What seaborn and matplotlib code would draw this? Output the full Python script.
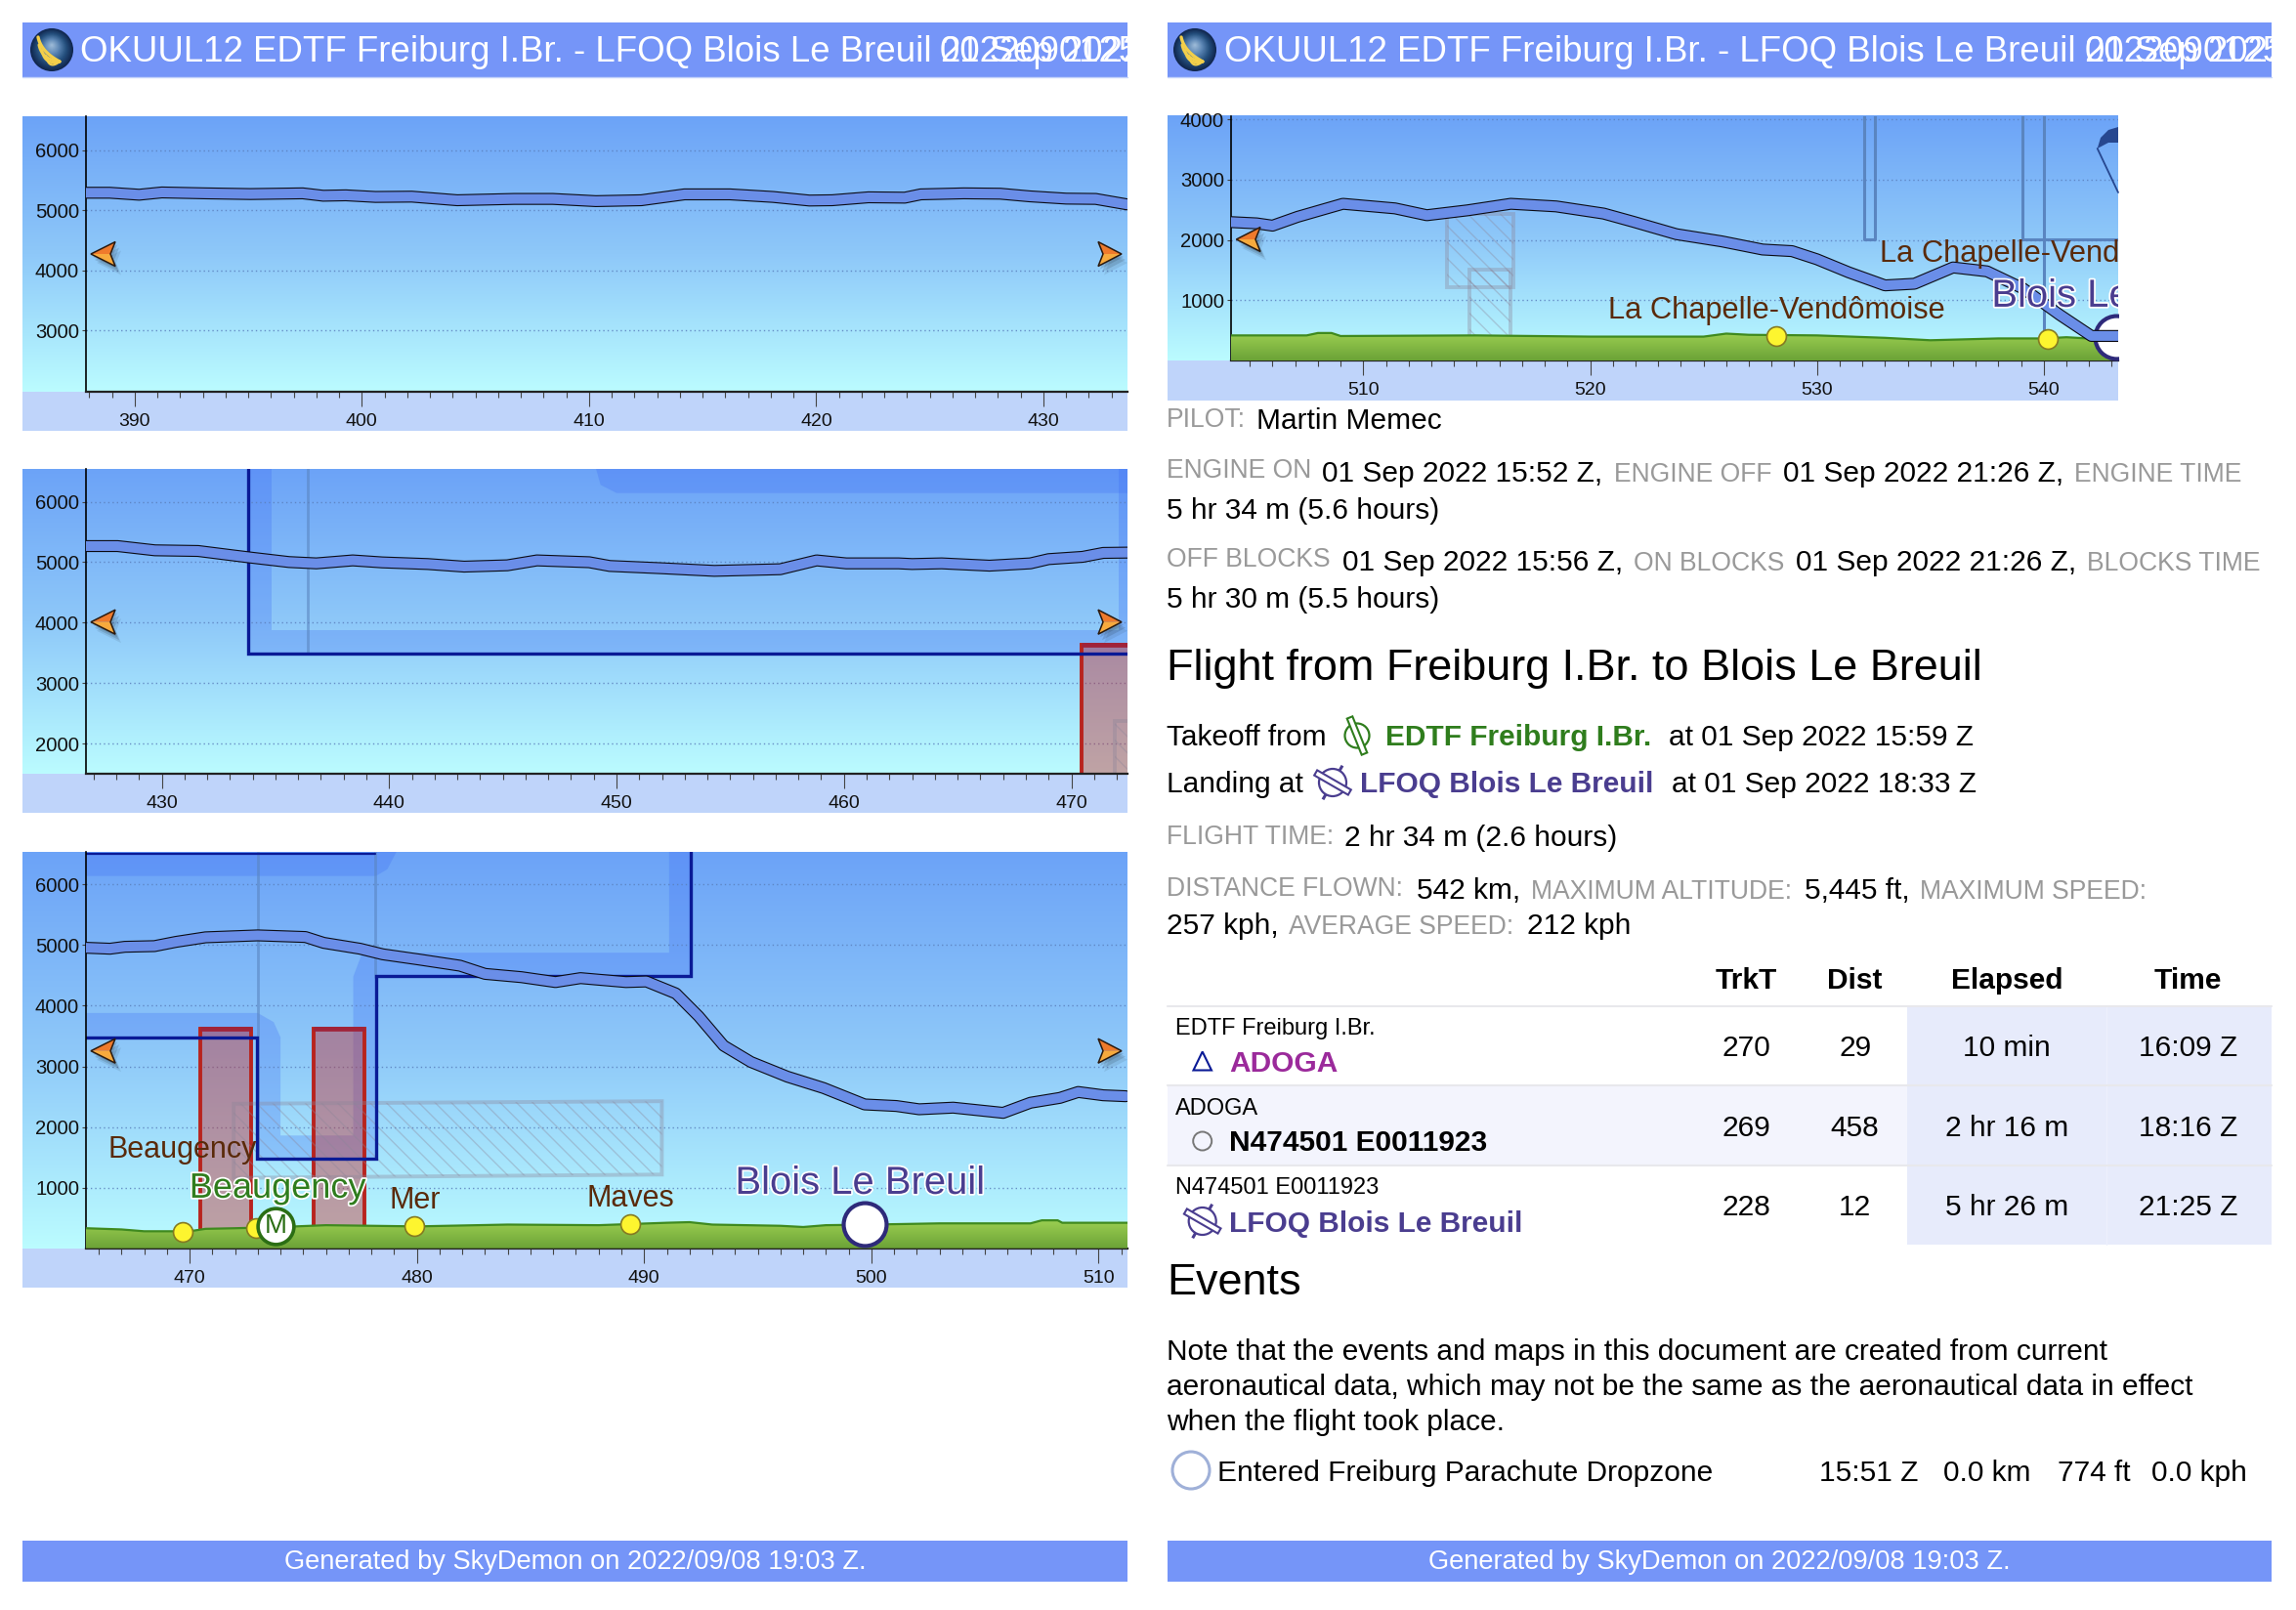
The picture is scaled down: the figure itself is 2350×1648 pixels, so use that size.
"""
Flight log page: altitude profile panels on the left, flight details on the right.
"""

import matplotlib.patheffects as pe
import matplotlib.pyplot as plt
import numpy as np
import seaborn as sns
from matplotlib.colors import LinearSegmentedColormap
from matplotlib.patches import Circle, Polygon, Rectangle
from matplotlib.ticker import FixedLocator, MultipleLocator

W, H = 2350, 1648

# altitude track, one pair of lists per panel
dist_1 = [387.86, 388.9, 390.2, 391.2, 393.1, 395.1, 397.4, 398.3, 399.3, 400.6, 402.2, 404.2, 406.7, 408.4,
          410.3, 412.3, 414.2, 416.2, 418.1, 419.7, 420.7, 422.3, 423.9, 424.6, 426.5, 428.1, 429.4, 431, 432.3, 433.7]
alt_1 = [5290, 5290, 5257, 5295, 5280, 5268, 5280, 5240, 5247, 5220, 5225, 5165, 5187, 5187,
         5150, 5165, 5263, 5263, 5220, 5160, 5165, 5214, 5208, 5263, 5280, 5274, 5230, 5192, 5187, 5095]

dist_2 = [426.67, 428.06, 429.7, 431.6, 433.2, 434, 435.6, 436.8, 438.4, 439.7, 441.7, 443.3, 445.2, 446.5, 448.8,
          449.7, 452, 454.3, 457.2, 458.8, 460.1, 462.4, 463, 464.3, 466.4, 468.2, 469, 470.5, 471.4, 472.46]
alt_2 = [5267, 5267, 5197, 5186, 5110, 5073, 5003, 4981, 5030, 4997, 4970, 4927, 4949, 5030, 5000,
         4938, 4900, 4857, 4884, 5030, 4981, 4981, 4970, 4981, 4943, 4981, 5051, 5089, 5154, 5159]

dist_3 = [465.44, 466.5, 467.15, 468.45, 469.4, 470.7, 473, 475.1, 475.9, 477.5, 478.5, 480.1, 481.9, 483, 484.6,
          486.1, 487.2, 489.2, 490.1, 491.4, 492.4, 493.5, 494.7, 496.3, 497.9, 499.7, 501.1, 502.1, 503.6,
          505.8, 507, 508.3, 509.1, 510.2, 511.2]
alt_3 = [4956, 4940, 4972, 4983, 5053, 5128, 5160, 5133, 5037, 4940, 4848, 4762, 4660, 4525, 4471,
         4390, 4455, 4390, 4400, 4202, 3826, 3341, 3072, 2830, 2642, 2372, 2346, 2292, 2319,
         2233, 2400, 2480, 2577, 2523, 2507]

dist_4 = [504.17, 505.3, 506, 507.1, 508.2, 509.1, 511.4, 512.8, 514.6, 516.5, 518.5, 520.6, 521.9, 523.8, 525.8,
          527.6, 528.9, 530, 531.4, 533, 534.3, 536, 537.5, 539.1, 540.7, 542.1, 543.3]
alt_4 = [2297, 2276, 2238, 2384, 2503, 2600, 2524, 2411, 2492, 2600, 2557, 2438, 2303, 2097, 1978,
         1843, 1816, 1681, 1465, 1249, 1276, 1546, 1481, 1195, 762, 411, 411]

# terrain under the last two panels
terrain_x_3 = [465.44, 467, 468, 470, 470.7, 472, 474, 476, 480, 484, 488, 491, 492, 493, 496, 497, 498, 500, 503,
               507, 507.5, 508.2, 508.4, 511.27]
terrain_y_3 = [330, 310, 280, 280, 320, 330, 350, 380, 360, 390, 380, 420, 430, 390, 370, 350, 380, 390, 410,
               410, 460, 460, 420, 420]
terrain_x_4 = [504.17, 507.5, 508, 508.6, 509, 515, 520, 525, 526, 527, 530, 533, 535, 538, 540, 541, 543.3]
terrain_y_4 = [420, 420, 460, 460, 410, 420, 400, 400, 450, 430, 420, 380, 340, 370, 370, 390, 340]

# waypoints
wpt_x_3 = [469.68, 472.9, 479.9, 489.4]
wpt_y_3 = [263, 340, 365, 395]
wpt_x_4 = [528.2, 540.2]
wpt_y_4 = [411, 367]
field_x, field_y = [499.7], [390]
blois_x_4, blois_y_4 = [543.2], [390]
vrp_x, vrp_y = [473.8], [370]

# table
table_heads = ["TrkT", "Dist", "Elapsed", "Time"]
row_from = ["EDTF Freiburg I.Br.", "ADOGA", "N474501 E0011923"]
row_to = ["ADOGA", "N474501 E0011923", "LFOQ Blois Le Breuil"]
row_trk = ["270", "269", "228"]
row_dist = ["29", "458", "12"]
row_elapsed = ["10 min", "2 hr 16 m", "5 hr 26 m"]
row_time = ["16:09 Z", "18:16 Z", "21:25 Z"]

BANNER = "#7595f8"
BAND = "#bfd4fa"
GREY = "#999999"
BROWN = "#5a2a0a"
GREEN = "#2f7d1d"
PURPLE = "#4a3d8f"
AIR = (0.24, 0.42, 0.96, 0.27)
RED_FILL = (0.78, 0.16, 0.16, 0.42)
RED_EDGE = "#b8241e"
NAVY = "#0a1a96"
THIN = "#5a85c0"
HATCH = (0.55, 0.52, 0.6, 0.36)

sns.set_theme(style="ticks")
plt.rcParams["font.family"] = ["Liberation Sans", "DejaVu Sans"]
plt.rcParams["hatch.linewidth"] = 1.0

fig = plt.figure(figsize=(W / 100, H / 100), dpi=100, facecolor="white")


def page_axes(zorder):
    ax = fig.add_axes([0, 0, 1, 1], zorder=zorder)
    ax.set_xlim(0, W)
    ax.set_ylim(H, 0)
    ax.axis("off")
    ax.patch.set_alpha(0)
    return ax


back = page_axes(0)
front = page_axes(5)

sky_cmap = LinearSegmentedColormap.from_list("sky", ["#6ca3f7", "#8ec8f9", "#bbfcff"])
grass_cmap = LinearSegmentedColormap.from_list("grass", ["#9ccf52", "#6ba236"])
ramp = np.linspace(0, 1, 256).reshape(-1, 1)


def add_panel(left, right, top, axis_y, band_y, xlim, ylim, yticks):
    back.imshow(ramp, cmap=sky_cmap, extent=(left, right, axis_y, top), aspect="auto", zorder=1)
    back.add_patch(Rectangle((left, axis_y), right - left, band_y - axis_y, fc=BAND, ec="none", zorder=1))
    back.set_xlim(0, W)
    back.set_ylim(H, 0)
    ax_left = left + 65
    ax = fig.add_axes(
        [ax_left / W, 1 - axis_y / H, (right - ax_left) / W, (axis_y - top) / H], zorder=1
    )
    ax.patch.set_alpha(0)
    ax.set_xlim(*xlim)
    ax.set_ylim(*ylim)
    ax.xaxis.set_major_locator(MultipleLocator(10))
    ax.xaxis.set_minor_locator(MultipleLocator(1))
    ax.yaxis.set_major_locator(FixedLocator(yticks))
    ax.tick_params(axis="x", which="major", length=10.8, width=0.8, labelsize=14, pad=5, color="#444444",
                   labelcolor="#111111")
    ax.tick_params(axis="x", which="minor", length=4.3, width=0.8, color="#444444")
    ax.tick_params(axis="y", length=3, width=0.8, labelsize=14.6, pad=2, color="#444444", labelcolor="#111111")
    ax.grid(axis="y", ls=(0, (1, 2.2)), lw=1, color="#5b80bd", alpha=0.85)
    ax.set_axisbelow("line")
    sns.despine(ax=ax)
    ax.spines["left"].set_linewidth(1.2)
    ax.spines["left"].set_color("black")
    ax.spines["bottom"].set_linewidth(1.6)
    ax.spines["bottom"].set_color("#222222")
    return ax


def draw_track(ax, x, y):
    sns.lineplot(x=x, y=y, sort=False, estimator=None, color="#0b0b14", lw=8.8, ax=ax, zorder=6,
                 solid_joinstyle="round")
    sns.lineplot(x=x, y=y, sort=False, estimator=None, color="#6a8ee8", lw=7.2, ax=ax, zorder=6.1,
                 solid_joinstyle="round")
    ax.set_xlabel("")
    ax.set_ylabel("")


def draw_terrain(ax, x, y):
    fill = ax.fill_between(x, y, 0, color="none", zorder=3)
    grass = ax.imshow(ramp, cmap=grass_cmap, extent=(x[0], x[-1], 0, max(y)), aspect="auto", zorder=3)
    grass.set_clip_path(fill.get_paths()[0], transform=ax.transData)
    sns.lineplot(x=x, y=y, sort=False, estimator=None, color="#3f8a1f", lw=1.6, ax=ax, zorder=3.1)
    ax.set_xlabel("")
    ax.set_ylabel("")


def draw_waypoints(ax, x, y):
    sns.scatterplot(x=x, y=y, s=205, color="#fdf52f", edgecolor="#857a22", linewidth=1.2, ax=ax, zorder=5,
                    legend=False, clip_on=True)
    ax.set_xlabel("")
    ax.set_ylabel("")


def label(ax, x, y, text, color, size, halo=0.0, ha="center"):
    t = ax.text(x, y, text, color=color, fontsize=size, ha=ha, va="baseline", zorder=8, clip_on=True)
    if halo:
        t.set_path_effects([pe.withStroke(linewidth=halo, foreground="white")])


def red_box(ax, x0, x1, top):
    ax.add_patch(Rectangle((x0, -100), x1 - x0, top + 100, fc=RED_FILL, ec=RED_EDGE, lw=2.8, zorder=2))
    ax.plot([x0, x1], [top, top], color="#a0233a", lw=3.4, zorder=2.1, solid_capstyle="butt")


def hatched(ax, points):
    ax.add_patch(Polygon(points, closed=True, fc="none", ec=HATCH, hatch="\\\\", lw=2.8, zorder=2.2))


def arrow(tip_x, back_x, notch_x, y):
    top, bottom = y - 12.5, y + 12.5
    for dx, dy, a in ((6, 9, 0.08), (4, 6, 0.12), (2, 3, 0.12)):
        front.add_patch(Polygon([(tip_x + dx, y + dy), (back_x + dx, top + dy), (notch_x + dx, y + dy),
                                 (back_x + dx, bottom + dy)], fc="black", alpha=a, ec="none"))
    front.add_patch(Polygon([(tip_x, y), (back_x, top), (notch_x, y)], fc="#ef7a2c", ec="none"))
    front.add_patch(Polygon([(tip_x, y), (back_x, bottom), (notch_x, y)], fc="#f7aa3d", ec="none"))
    front.add_patch(Polygon([(tip_x, y), (back_x, top), (notch_x, y), (back_x, bottom)],
                            fc="none", ec="#2a1a10", lw=1.1))


def globe(cx, cy):
    shades = LinearSegmentedColormap.from_list("globe", ["#10264d", "#25507f", "#5c86b4", "#9ab8d6"])
    for i, frac in enumerate(np.linspace(1, 0.05, 24)):
        back.add_patch(Circle((cx, cy - 5 * (1 - frac)), 22 * frac, fc=shades(i / 23), ec="none", zorder=3))
    t = np.linspace(0, 1, 20)
    for sx, sy, width in ((-14, -13, 2.4), (-13, -5, 2.2), (-10, 1, 2.0), (-6, 6, 1.6)):
        curve_x = cx + (1 - t) ** 2 * sx + 2 * t * (1 - t) * (sx + 3) + t ** 2 * 8
        curve_y = cy + (1 - t) ** 2 * sy + 2 * t * (1 - t) * (sy + 15) + t ** 2 * 12
        back.plot(curve_x, curve_y, color="#f3cf4a", lw=width, zorder=4, solid_capstyle="round")


def banner(left, right, title_x, date_x, globe_x):
    back.add_patch(Rectangle((left, 23), right - left, 56, fc=BANNER, ec="none", zorder=2))
    back.plot([left, right], [79, 79], color="#c6d4fb", lw=1, zorder=2)
    globe(globe_x, 51)
    clip = Rectangle((left, 23), right - left, 56, transform=back.transData)
    back.text(title_x, 63, "OKUUL12 EDTF Freiburg I.Br. - LFOQ Blois Le Breuil", color="white",
              fontsize=26.4, va="baseline", zorder=4)
    for date in ("01 Sep 2022", "2022090125"):
        t = back.text(date_x, 63, date, color="white", fontsize=26.4, va="baseline", zorder=4)
        t.set_clip_path(clip)


def footer(left, right):
    back.add_patch(Rectangle((left, 1577), right - left, 42, fc=BANNER, ec="none", zorder=2))
    back.text((left + right) / 2, 1606, "Generated by SkyDemon on 2022/09/08 19:03 Z.", color="white",
              fontsize=19.6, ha="center", va="baseline", zorder=4)


def airfield(cx, cy, color, angle, stubs, radius=12.5):
    front.add_patch(Circle((cx, cy), radius, fc="none", ec=color, lw=1.6))
    rad = np.radians(angle)
    ux, uy = np.cos(rad), np.sin(rad)
    if stubs:
        for sign in (1, -1):
            front.plot([cx + sign * radius * uy, cx + sign * (radius + 6) * uy],
                       [cy - sign * radius * ux, cy - sign * (radius + 6) * ux],
                       color=color, lw=2.2, solid_capstyle="butt")
    half, wid = 20, 3
    corners = [(cx + s1 * half * ux - s2 * wid * uy, cy + s1 * half * uy + s2 * wid * ux)
               for s1, s2 in ((1, 1), (1, -1), (-1, -1), (-1, 1))]
    front.add_patch(Polygon(corners, fc="white", ec=color, lw=1.5, zorder=3))


def txt(x, y, text, color="black", size=21.5, weight="normal", ha="left"):
    front.text(x, y, text, color=color, fontsize=size, fontweight=weight, ha=ha, va="baseline")


def grey(x, y, text):
    txt(x, y, text, color=GREY, size=19.1)


# ---- left column ----
banner(23, 1154, 82, 962.5, 53)
banner(1195, 2325, 1253, 2133.5, 1223)
footer(23, 1154)
footer(1195, 2325)

ax1 = add_panel(23, 1154, 119, 400.7, 441, (387.86, 433.7), (1980, 6564), [3000, 4000, 5000, 6000])
draw_track(ax1, dist_1, alt_1)

ax2 = add_panel(23, 1154, 480, 792, 832, (426.67, 472.47), (1499, 6544), [2000, 3000, 4000, 5000, 6000])
ax2.add_patch(Polygon([(433.8, 6544), (433.8, 3490), (472.47, 3490), (472.47, 6544), (472.07, 6544),
                       (472.07, 3876), (434.85, 3876), (434.85, 6544)], fc=AIR, ec="none", zorder=1))
ax2.add_patch(Polygon([(449.1, 6544), (449.3, 6280), (450, 6145), (472.47, 6145), (472.47, 6544)],
                      fc=AIR, ec="none", zorder=1))
ax2.plot([436.44, 436.44], [3490, 6544], color=THIN, lw=2, alpha=0.6, zorder=1.2)
ax2.plot([433.8, 433.8, 472.47], [6544, 3490, 3490], color=NAVY, lw=2.4, zorder=2.4, solid_joinstyle="miter")
red_box(ax2, 470.45, 473.5, 3633)
hatched(ax2, [(471.9, 1000), (471.9, 2367), (474, 2367), (474, 1000)])
draw_track(ax2, dist_2, alt_2)

ax3 = add_panel(23, 1154, 872, 1277.7, 1317.7, (465.44, 511.27), (0, 6537), [1000, 2000, 3000, 4000, 5000, 6000])
red_box(ax3, 470.45, 472.7, 3626)
red_box(ax3, 475.44, 477.7, 3626)
ax3.add_patch(Polygon([(465.44, 3480), (472.98, 3480), (472.98, 1480), (478.2, 1480), (478.2, 4480), (492.07, 4480),
                       (492.07, 6537), (491.1, 6537), (491.1, 4875), (477.6, 4875), (477.2, 4480), (477.2, 1860),
                       (474, 1860), (474, 3480), (473.7, 3730), (473, 3880), (465.44, 3880)],
                      fc=AIR, ec="none", zorder=1))
ax3.add_patch(Polygon([(465.44, 6537), (479.1, 6537), (478.7, 6250), (478.2, 6140), (465.44, 6140)],
                      fc=AIR, ec="none", zorder=1))
ax3.plot([473, 473], [1480, 6537], color=THIN, lw=2, alpha=0.6, zorder=1.2)
ax3.plot([478.15, 478.15], [4480, 6537], color=THIN, lw=2, alpha=0.6, zorder=1.2)
hatched(ax3, [(471.94, 2383), (490.78, 2425), (490.78, 1215), (471.94, 1161)])
ax3.plot([465.44, 478.15], [6510, 6510], color=NAVY, lw=1.6, zorder=2.4)
ax3.plot([465.44, 472.98, 472.98, 478.2, 478.2, 492.07, 492.07], [3480, 3480, 1480, 1480, 4490, 4490, 6537],
         color=NAVY, lw=2.4, zorder=2.4, solid_joinstyle="miter")
draw_terrain(ax3, terrain_x_3, terrain_y_3)
draw_waypoints(ax3, wpt_x_3, wpt_y_3)
sns.scatterplot(x=vrp_x, y=vrp_y, s=700, color="white", edgecolor="#2b6e14", linewidth=2.6, ax=ax3, zorder=5.5,
                legend=False)
ax3.text(vrp_x[0], vrp_y[0], "M", color="#2b6e14", fontsize=20, ha="center", va="center", zorder=5.6)
sns.scatterplot(x=field_x, y=field_y, s=1000, color="white", edgecolor="#2e2a7a", linewidth=3, ax=ax3, zorder=5.5,
                legend=False)
ax3.set_xlabel("")
ax3.set_ylabel("")
draw_track(ax3, dist_3, alt_3)
label(ax3, 469.68, 1496, "Beaugency", BROWN, 22)
label(ax3, 473.87, 834, "Beaugency", GREEN, 26, halo=2.5)
label(ax3, 479.9, 661, "Mer", BROWN, 22)
label(ax3, 489.4, 689, "Maves", BROWN, 22)
label(ax3, 499.5, 898, "Blois Le Breuil", PURPLE, 28.8, halo=2.5)

ax4 = add_panel(1195, 2168, 119, 369.3, 410, (504.17, 543.28), (0, 4050), [1000, 2000, 3000, 4000])
hatched(ax4, [(513.7, 2427), (516.6, 2427), (516.6, 1211), (513.7, 1211)])
hatched(ax4, [(514.7, 1514), (516.5, 1514), (516.5, 300), (514.7, 300)])
ax4.plot([532.07, 532.07, 532.55, 532.55], [4050, 2005, 2005, 4050], color=THIN, lw=2.2, zorder=1.2)
ax4.plot([539.04, 539.04, 543.28], [4050, 2016, 2016], color=THIN, lw=2.2, zorder=1.2)
ax4.plot([540, 540], [4050, 400], color=THIN, lw=2.2, zorder=1.2)
draw_terrain(ax4, terrain_x_4, terrain_y_4)
draw_waypoints(ax4, wpt_x_4, wpt_y_4)
sns.scatterplot(x=blois_x_4, y=blois_y_4, s=1000, color="white", edgecolor="#2e2a7a", linewidth=3, ax=ax4, zorder=4,
                legend=False)
ax4.set_xlabel("")
ax4.set_ylabel("")
draw_track(ax4, dist_4, alt_4)
label(ax4, 528.2, 707, "La Chapelle-Vendômoise", BROWN, 22.2)
label(ax4, 540.2, 1647, "La Chapelle-Vendômoise", BROWN, 22.2)
label(ax4, 543.2, 896, "Blois Le Breuil", PURPLE, 28.8, halo=2.5)
front.add_patch(Polygon([(2146.7, 152), (2150, 141), (2158, 133), (2168, 130), (2168, 146), (2158, 146)],
                        fc="#27478f", ec="none"))
front.plot([2146.7, 2168], [152, 197], color="#27478f", lw=1.3)

for py in (260, 636.7, 1075.7):
    arrow(93, 118, 113, py)
    arrow(1148, 1124, 1129, py)
arrow(1265.4, 1290, 1285, 245)

# ---- right column text ----
grey(1194, 437, "PILOT:")
txt(1286, 439, "Martin Memec")

grey(1194, 489, "ENGINE ON")
txt(1353, 493, "01 Sep 2022 15:52 Z,")
grey(1652, 493, "ENGINE OFF")
txt(1825, 493, "01 Sep 2022 21:26 Z,")
grey(2123, 493, "ENGINE TIME")
txt(1194, 531, "5 hr 34 m (5.6 hours)")

grey(1194, 580, "OFF BLOCKS")
txt(1374, 584, "01 Sep 2022 15:56 Z,")
grey(1672, 584, "ON BLOCKS")
txt(1838, 584, "01 Sep 2022 21:26 Z,")
grey(2136, 584, "BLOCKS TIME")
txt(1194, 622, "5 hr 30 m (5.5 hours)")

txt(1194, 696, "Flight from Freiburg I.Br. to Blois Le Breuil", size=32.4)

txt(1194, 763, "Takeoff from")
airfield(1389, 753, GREEN, 68, False)
txt(1418, 763, "EDTF Freiburg I.Br.", color=GREEN, size=21.5, weight="bold")
txt(1708, 763, "at 01 Sep 2022 15:59 Z")
txt(1194, 811, "Landing at")
airfield(1364, 801, PURPLE, 30, True, radius=14)
txt(1392, 811, "LFOQ Blois Le Breuil", color=PURPLE, size=21.5, weight="bold")
txt(1711, 811, "at 01 Sep 2022 18:33 Z")

grey(1194, 864, "FLIGHT TIME:")
txt(1376, 866, "2 hr 34 m (2.6 hours)")

grey(1194, 917, "DISTANCE FLOWN:")
txt(1450, 920, "542 km,")
grey(1567, 920, "MAXIMUM ALTITUDE:")
txt(1847, 920, "5,445 ft,")
grey(1965, 920, "MAXIMUM SPEED:")
txt(1194, 956, "257 kph,")
grey(1319, 956, "AVERAGE SPEED:")
txt(1563, 956, "212 kph")

# ---- table ----
col_x = [1787.6, 1898.6, 2054, 2239.6]
rule_y = [1030, 1111, 1192.7, 1274]
back.add_patch(Rectangle((1195, 1111), 757, 81.7, fc="#f3f4fd", ec="none", zorder=2))
back.add_patch(Rectangle((1952, 1030), 373, 244, fc="#e7ebfb", ec="none", zorder=2))
back.plot([2155.5, 2155.5], [1030, 1274], color="#edf0fc", lw=1, zorder=2.5)
for ry in rule_y[:-1]:
    back.plot([1195, 2325], [ry, ry], color="#e8e8ec", lw=1.5, zorder=3)

for cx, head in zip(col_x, table_heads):
    txt(cx, 1012, head, size=21.5, weight="bold", ha="center")

from_y = [1059, 1141, 1222]
to_y = [1097, 1178, 1261]
num_y = [1081, 1163, 1244]
to_color = ["#9b2a9b", "black", PURPLE]
for i in range(3):
    txt(1203, from_y[i], row_from[i], size=17)
    txt(1258, to_y[i], row_to[i], color=to_color[i], size=21.5, weight="bold")
    for cx, val in zip(col_x, (row_trk[i], row_dist[i], row_elapsed[i], row_time[i])):
        txt(cx, num_y[i], val, ha="center")

front.add_patch(Polygon([(1230.7, 1076.5), (1221.5, 1095.5), (1240, 1095.5)], fc="none", ec=NAVY, lw=1.5))
front.add_patch(Circle((1230.7, 1168), 9.5, fc="#f3f4fd", ec="#777777", lw=1.4))
airfield(1230.7, 1250, PURPLE, 30, True, radius=14)

# ---- events ----
txt(1194, 1325, "Events", size=32.4)
txt(1194, 1392, "Note that the events and maps in this document are created from current")
txt(1194, 1428, "aeronautical data, which may not be the same as the aeronautical data in effect")
txt(1194, 1464, "when the flight took place.")
front.add_patch(Circle((1219, 1505), 19, fc="white", ec="#9fb0d8", lw=2.2))
txt(1246, 1516, "Entered Freiburg Parachute Dropzone")
txt(1861.6, 1516, "15:51 Z")
txt(1989, 1516, "0.0 km")
txt(2105.7, 1516, "774 ft")
txt(2202, 1516, "0.0 kph")

fig.savefig("out.png", dpi=100)
plt.close(fig)
